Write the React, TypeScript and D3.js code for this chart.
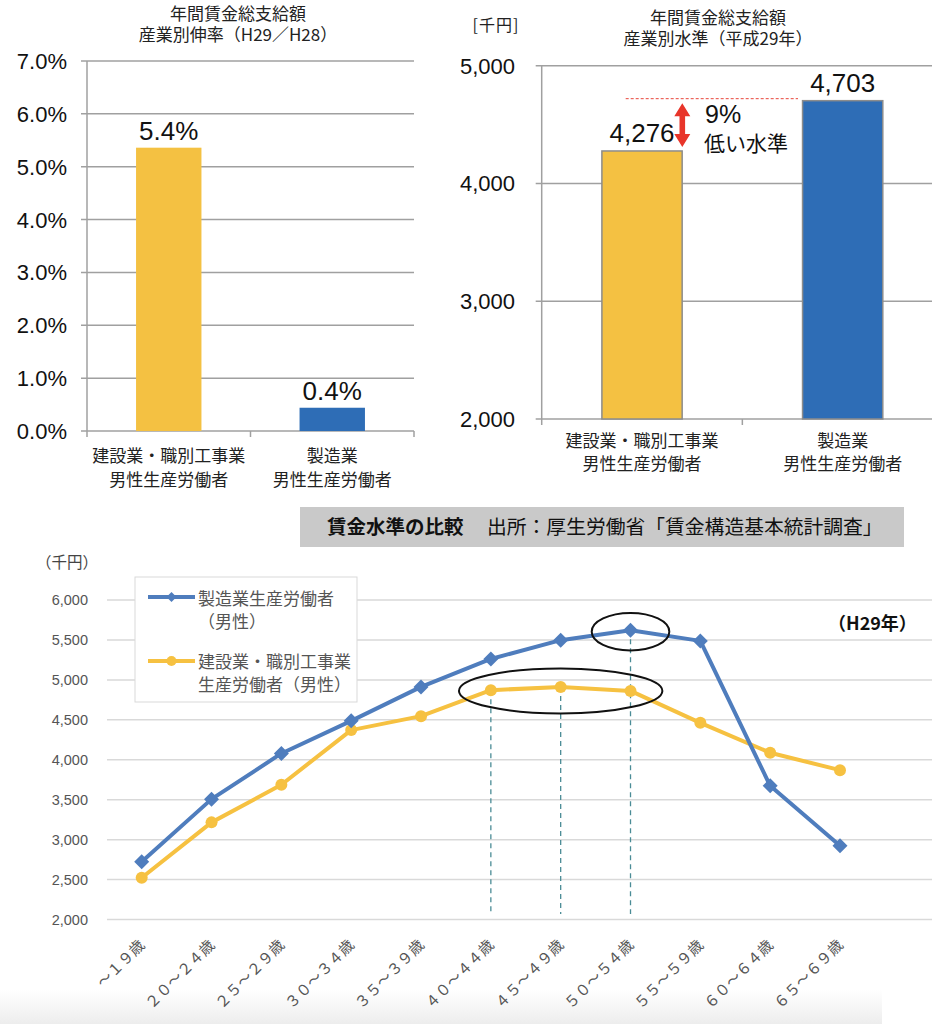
import React from "react";
import * as d3 from "d3";

// ---------- Data ----------
const barCats = ["建設業・職別工事業|男性生産労働者", "製造業|男性生産労働者"];
const growthRates = [5.36, 0.44]; // % (H29/H28)
const wageLevels = [4276, 4703]; // 千円 (H29)
const growthTicks = [0, 1, 2, 3, 4, 5, 6, 7];
const levelTicks = [2000, 3000, 4000, 5000];

const ageGroups = ["～１９歳", "２０～２４歳", "２５～２９歳", "３０～３４歳", "３５～３９歳", "４０～４４歳", "４５～４９歳", "５０～５４歳", "５５～５９歳", "６０～６４歳", "６５～６９歳"];
const mfgWages = [2723, 3507, 4079, 4487, 4912, 5262, 5497, 5622, 5488, 3674, 2923];
const conWages = [2523, 3216, 3687, 4371, 4546, 4871, 4912, 4862, 4462, 4087, 3870];
const lineTicks = [2000, 2500, 3000, 3500, 4000, 4500, 5000, 5500, 6000];
const seriesNames = [["製造業生産労働者", "（男性）"], ["建設業・職別工事業", "生産労働者（男性）"]];

const JP = "'Noto Sans CJK JP', 'Noto Sans', sans-serif";
const LAT = "'Liberation Sans', Arial, sans-serif";
const YELLOW = "#F4C142";
const BLUE_BAR = "#2E6DB6";
const BLUE_LINE = "#4F7DBD";
const ORANGE_LINE = "#F6C141";

export default function App() {
  // ---- top-left chart ----
  const xL = d3.scaleBand<string>().domain(barCats).range([87, 414]).paddingInner(0.6).paddingOuter(0.3);
  const yL = d3.scaleLinear().domain([0, 7]).range([431, 61]);
  // ---- top-right chart ----
  const xR = d3.scaleBand<string>().domain(barCats).range([541.7, 943]).paddingInner(0.6).paddingOuter(0.3);
  const yR = d3.scaleLinear().domain([2000, 5000]).range([419, 65.7]);
  // ---- bottom line chart ----
  const xB = d3.scalePoint<string>().domain(ageGroups).range([141.7, 840]);
  const yB = d3.scaleLinear().domain([2000, 6000]).range([919.5, 600]);

  const lineGen = d3.line<number>().x((_, i) => xB(ageGroups[i]) as number).y((v) => yB(v));
  const diamond = (cx: number, cy: number, r: number) => `M${cx},${cy - r}L${cx + r},${cy}L${cx},${cy + r}L${cx - r},${cy}Z`;

  const stepL = xL.step();
  const stepR = xR.step();

  // arrow geometry
  const arrowX = 682.3;
  const topTip = yR(wageLevels[1]) + 2.5;
  const botTip = yR(wageLevels[0]) - 4;

  const highlight = [
    { i: 5, v: conWages[5] },
    { i: 6, v: conWages[6] },
    { i: 7, v: mfgWages[7] },
  ];

  return (
    <svg width={932} height={1024} style={{ position: "absolute", left: 0, top: 0, background: "#fff" }}>
      <defs>
        <linearGradient id="shade" x1="0" y1="0" x2="0" y2="1">
          <stop offset="0" stopColor="#ffffff" />
          <stop offset="1" stopColor="#ededed" />
        </linearGradient>
      </defs>
      <rect x={0} y={990} width={882} height={34} fill="url(#shade)" />

      {/* ================= Top-left chart ================= */}
      <text x={238} y={20} textAnchor="middle" fontFamily={JP} fontSize={17} fill="#222">年間賃金総支給額</text>
      <text x={238} y={41} textAnchor="middle" fontFamily={JP} fontSize={17} fill="#222">産業別伸率（H29／H28）</text>
      {growthTicks.map((t) => (
        <g key={t}>
          <line x1={81} x2={414} y1={yL(t)} y2={yL(t)} stroke="#a0a0a0" strokeWidth={1.5} />
          <text x={67} y={yL(t) + 8} textAnchor="end" fontFamily={LAT} fontSize={22} fill="#111">{t.toFixed(1) + "%"}</text>
        </g>
      ))}
      <line x1={87} x2={87} y1={61} y2={431} stroke="#a0a0a0" strokeWidth={1.5} />
      {[0, 1, 2].map((k) => (
        <line key={k} x1={87 + k * stepL} x2={87 + k * stepL} y1={431} y2={437} stroke="#a0a0a0" strokeWidth={1.5} />
      ))}
      {barCats.map((c, i) => (
        <g key={c}>
          <rect x={xL(c)} y={yL(growthRates[i])} width={xL.bandwidth()} height={yL(0) - yL(growthRates[i])} fill={i === 0 ? YELLOW : BLUE_BAR} />
          <text x={(xL(c) as number) + xL.bandwidth() / 2} y={yL(growthRates[i]) - 8} textAnchor="middle" fontFamily={LAT} fontSize={26} fill="#111">
            {growthRates[i].toFixed(1) + "%"}
          </text>
          {c.split("|").map((s, j) => (
            <text key={j} x={(xL(c) as number) + xL.bandwidth() / 2} y={462 + j * 23.5} textAnchor="middle" fontFamily={JP} fontSize={17} fill="#222">{s}</text>
          ))}
        </g>
      ))}

      {/* ================= Top-right chart ================= */}
      <text x={496} y={31} textAnchor="middle" fontFamily={JP} fontSize={16} fill="#222" letterSpacing={1}>[千円]</text>
      <text x={718} y={24} textAnchor="middle" fontFamily={JP} fontSize={17} fill="#222">年間賃金総支給額</text>
      <text x={718} y={45} textAnchor="middle" fontFamily={JP} fontSize={17} fill="#222">産業別水準（平成29年）</text>
      {levelTicks.map((t) => (
        <g key={t}>
          <line x1={535.7} x2={932} y1={yR(t)} y2={yR(t)} stroke="#a0a0a0" strokeWidth={1.5} />
          <text x={515} y={yR(t) + 8} textAnchor="end" fontFamily={LAT} fontSize={22} fill="#111">{d3.format(",")(t)}</text>
        </g>
      ))}
      <line x1={541.7} x2={541.7} y1={65.7} y2={419} stroke="#a0a0a0" strokeWidth={1.5} />
      {[0, 1, 2].map((k) => (
        <line key={k} x1={541.7 + k * stepR} x2={541.7 + k * stepR} y1={419} y2={425} stroke="#a0a0a0" strokeWidth={1.5} />
      ))}
      {barCats.map((c, i) => (
        <g key={c}>
          <rect x={xR(c)} y={yR(wageLevels[i])} width={xR.bandwidth()} height={yR(2000) - yR(wageLevels[i])} fill={i === 0 ? YELLOW : BLUE_BAR} stroke="#8c8c8c" strokeWidth={1.5} />
          <text x={(xR(c) as number) + xR.bandwidth() / 2} y={yR(wageLevels[i]) - 9} textAnchor="middle" fontFamily={LAT} fontSize={26} fill="#111">
            {d3.format(",")(wageLevels[i])}
          </text>
          {c.split("|").map((s, j) => (
            <text key={j} x={(xR(c) as number) + xR.bandwidth() / 2} y={447 + j * 23} textAnchor="middle" fontFamily={JP} fontSize={17} fill="#222">{s}</text>
          ))}
        </g>
      ))}
      {/* annotation */}
      <line x1={625.7} x2={798} y1={yR(wageLevels[1]) - 2} y2={yR(wageLevels[1]) - 2} stroke="#e8453a" strokeWidth={1} strokeDasharray="3,2" />
      <path
        d={`M${arrowX},${topTip} L${arrowX + 8},${topTip + 13} L${arrowX + 2.8},${topTip + 13} L${arrowX + 2.8},${botTip - 13} L${arrowX + 8},${botTip - 13} L${arrowX},${botTip} L${arrowX - 8},${botTip - 13} L${arrowX - 2.8},${botTip - 13} L${arrowX - 2.8},${topTip + 13} L${arrowX - 8},${topTip + 13} Z`}
        fill="#E8352A"
      />
      <text x={705} y={123} fontFamily={LAT} fontSize={25} fill="#111">9%</text>
      <text x={704} y={151} fontFamily={JP} fontSize={21} fill="#111">低い水準</text>

      {/* ================= Bottom line chart ================= */}
      <rect x={300} y={507} width={604} height={40} fill="#c9c9c9" />
      <text x={327} y={534} fontFamily={JP} fontSize={19.5} fontWeight="bold" fill="#111">賃金水準の比較</text>
      <text x={487} y={534} fontFamily={JP} fontSize={19.8} fill="#111">出所：厚生労働省「賃金構造基本統計調査」</text>

      <text x={36} y={568} fontFamily={JP} fontSize={15.5} fill="#444">（千円）</text>
      {lineTicks.map((t) => (
        <g key={t}>
          <line x1={107} x2={932} y1={yB(t)} y2={yB(t)} stroke="#d9d9d9" strokeWidth={1.5} />
          <text x={88} y={yB(t) + 5} textAnchor="end" fontFamily={LAT} fontSize={14.5} fill="#555">{d3.format(",")(t)}</text>
        </g>
      ))}

      {/* highlight dashed lines */}
      {highlight.map((h) => (
        <line key={h.i} x1={xB(ageGroups[h.i])} x2={xB(ageGroups[h.i])} y1={yB(h.v)} y2={914} stroke="#4a8c96" strokeWidth={1.3} strokeDasharray="5,4" />
      ))}

      <path d={lineGen(conWages) as string} fill="none" stroke={ORANGE_LINE} strokeWidth={4} strokeLinejoin="round" />
      <path d={lineGen(mfgWages) as string} fill="none" stroke={BLUE_LINE} strokeWidth={4} strokeLinejoin="round" />
      {conWages.map((v, i) => (
        <circle key={i} cx={xB(ageGroups[i])} cy={yB(v)} r={6} fill={ORANGE_LINE} />
      ))}
      {mfgWages.map((v, i) => (
        <path key={i} d={diamond(xB(ageGroups[i]) as number, yB(v), 7.5)} fill={BLUE_LINE} />
      ))}

      {/* ellipses */}
      <ellipse cx={xB(ageGroups[7])} cy={yB(mfgWages[7]) + 1.5} rx={38.8} ry={18.7} fill="none" stroke="#111" strokeWidth={2} />
      <ellipse cx={xB(ageGroups[6])} cy={yB(conWages[6]) + 4} rx={101.7} ry={22.5} fill="none" stroke="#111" strokeWidth={2} />

      <text x={828} y={630} fontFamily={JP} fontSize={18} fontWeight="bold" fill="#111">（H29年）</text>

      {/* x labels */}
      {ageGroups.map((a) => {
        const x = (xB(a) as number) + 4;
        const y = 946;
        return (
          <text key={a} x={x} y={y} transform={`rotate(-45 ${x} ${y})`} textAnchor="end" fontFamily={JP} fontSize={15} fill="#555">{a}</text>
        );
      })}

      {/* legend */}
      <rect x={135} y={577} width={222} height={125} fill="#fff" stroke="#d9d9d9" strokeWidth={1} />
      <line x1={148} x2={195} y1={597} y2={597} stroke={BLUE_LINE} strokeWidth={4} />
      <path d={diamond(171.5, 597, 5)} fill={BLUE_LINE} />
      <line x1={148} x2={195} y1={661} y2={661} stroke={ORANGE_LINE} strokeWidth={4} />
      <circle cx={171.5} cy={661} r={5} fill={ORANGE_LINE} />
      {seriesNames.map((lines, k) =>
        lines.map((s, j) => (
          <text key={`${k}-${j}`} x={198} y={(k === 0 ? 605 : 668) + j * 22.5} fontFamily={JP} fontSize={17} fill="#555">{s}</text>
        ))
      )}
    </svg>
  );
}
